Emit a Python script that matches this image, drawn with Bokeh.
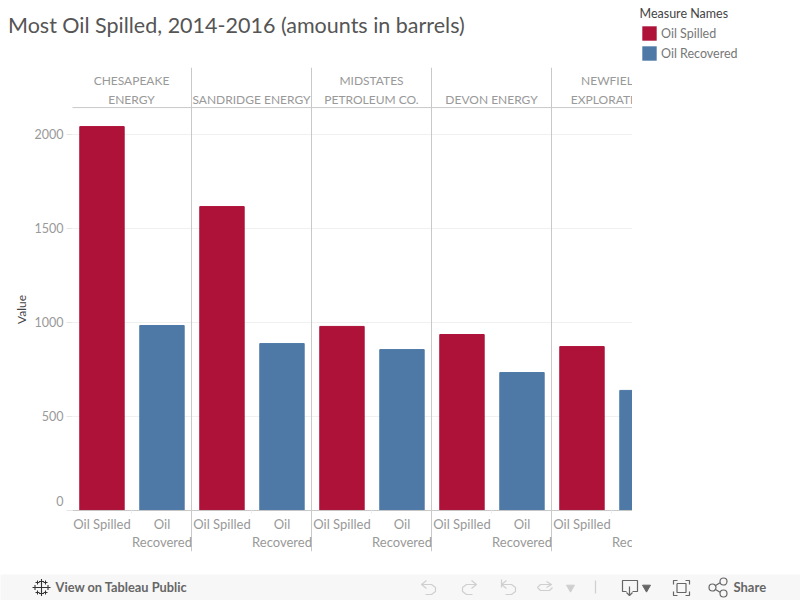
from bokeh.plotting import figure
from bokeh.layouts import column, row
from bokeh.models import Range1d, FixedTicker, Legend, LegendItem, Label
from bokeh.core.properties import value
from bokeh.embed import file_html
from bokeh.resources import INLINE

companies = ["CHESAPEAKE\nENERGY", "SANDRIDGE ENERGY", "MIDSTATES\nPETROLEUM CO.", "DEVON ENERGY", "NEWFIELD\nEXPLORATION"]
oil_spilled = [2040, 1615, 978, 935, 871]
oil_recovered = [983, 887, 855, 733, 638]
measures = ["Oil Spilled", "Oil\nRecovered"]
legend_names = ["Oil Spilled", "Oil Recovered"]
legend_title = "Measure Names"
y_ticks = [0, 500, 1000, 1500, 2000]
title_text = "Most Oil Spilled, 2014-2016 (amounts in barrels)"

RED = "#AE1239"
BLUE = "#4E79A7"
FONT = "Lato"
GREY = "#999999"
RULE = "#c8c8c8"

n = len(companies)
panels = list(range(n))
y_header = 2141

# title strip
head = figure(width=632, height=50, output_backend="svg", toolbar_location=None,
              x_range=Range1d(0, 632), y_range=Range1d(50, 0), min_border=0, outline_line_color=None)
head.axis.visible = False
head.grid.visible = False
head.text(x=[7.5], y=[24.5], text=[title_text], text_font=value(FONT), text_font_size="21.5px",
          text_color="#555555", text_baseline="middle", text_align="left")

p = figure(width=632, height=524, output_backend="svg", toolbar_location=None,
           x_range=Range1d(1 / 120, 561 / 120), y_range=Range1d(-218, 2354),
           min_border_left=72, min_border_right=0, min_border_top=17, min_border_bottom=23,
           outline_line_color=None, background_fill_color="white")
p.xaxis.visible = False
p.xgrid.visible = False
p.ygrid.ticker = FixedTicker(ticks=y_ticks)
p.ygrid.grid_line_color = "#f0f0f0"

ax = p.yaxis[0]
ax.ticker = FixedTicker(ticks=y_ticks)
ax.major_label_overrides = {0: "0\n"}
ax.axis_line_color = None
ax.major_tick_line_color = "#e6e6e6"
ax.major_tick_in = 0
ax.major_tick_out = 6
ax.minor_tick_line_color = None
ax.major_label_text_font = FONT
ax.major_label_text_font_size = "12.5px"
ax.major_label_text_color = GREY
ax.major_label_standoff = 3
ax.axis_label = "Value"
ax.axis_label_text_font = FONT
ax.axis_label_text_font_size = "12px"
ax.axis_label_text_font_style = "normal"
ax.axis_label_text_color = "#444444"
ax.axis_label_standoff = 3

p.vbar(x=[i + 0.254 for i in panels], top=oil_spilled, bottom=0, width=0.37, color=RED)
p.vbar(x=[i + 0.754 for i in panels], top=oil_recovered, bottom=0, width=0.37, color=BLUE)

p.segment(x0=panels, x1=panels, y0=[-218] * n, y1=[2354] * n, line_color=RULE, line_width=1)
p.segment(x0=[0, 0], x1=[n, n], y0=[0, y_header], y1=[0, y_header], line_color=RULE, line_width=1)
p.segment(x0=[i + 0.5 for i in panels], x1=[i + 0.5 for i in panels], y0=[0] * n, y1=[-16] * n,
          line_color="#eeeeee", line_width=1)

p.text(x=[i + 0.5 for i in panels], y=[y_header] * n, text=companies, y_offset=-1,
       text_align="center", text_baseline="bottom", text_font=value(FONT),
       text_font_size="12px", text_color=GREY, text_line_height=1.25)
p.text(x=[i + 0.254 for i in panels], y=[0] * n, text=[measures[0]] * n, y_offset=6,
       text_align="center", text_baseline="top", text_font=value(FONT),
       text_font_size="13px", text_color=GREY, text_line_height=1.1)
p.text(x=[i + 0.754 for i in panels], y=[0] * n, text=[measures[1]] * n, y_offset=6,
       text_align="center", text_baseline="top", text_font=value(FONT),
       text_font_size="13px", text_color=GREY, text_line_height=1.1)

# legend in its own panel to the right of the chart
lg = figure(width=168, height=574, output_backend="svg", toolbar_location=None,
            x_range=Range1d(0, 1), y_range=Range1d(0, 1), min_border=0,
            outline_line_color=None)
lg.axis.visible = False
lg.grid.visible = False
r1 = lg.vbar(x=[0.5], top=[0], bottom=[0], width=0, fill_color=RED, line_alpha=0)
r2 = lg.vbar(x=[0.5], top=[0], bottom=[0], width=0, fill_color=BLUE, line_alpha=0)
legend = Legend(items=[LegendItem(label=legend_names[0], renderers=[r1]),
                       LegendItem(label=legend_names[1], renderers=[r2])],
                location=(8, 512), orientation="vertical",
                label_text_font=FONT, label_text_font_size="12.5px", label_text_color="#777777",
                glyph_width=18, glyph_height=18, label_height=18, label_standoff=3, spacing=2,
                padding=0, margin=0, background_fill_alpha=0, border_line_color=None)
lg.add_layout(legend, "center")
lg.add_layout(Label(x=7, y=561, x_units="screen", y_units="screen", text=legend_title,
                    text_font=FONT, text_font_size="12.5px", text_color="#444444",
                    text_baseline="middle"))

# bottom Tableau bar (reference pixel coordinates)
bar = figure(width=800, height=26, output_backend="svg", toolbar_location=None,
             x_range=Range1d(0, 800), y_range=Range1d(600, 574),
             min_border=0, outline_line_color=None, background_fill_color="#f7f7f7",
             border_fill_color="#f7f7f7")
bar.axis.visible = False
bar.grid.visible = False

def polys(lines, color, width=1.2):
    bar.multi_line(xs=[[q[0] for q in l] for l in lines], ys=[[q[1] for q in l] for l in lines],
                   line_color=color, line_width=width)

ICON = "#cfcfcf"
DARK = "#666666"
lx = [41, 34.5, 47.5, 37, 45, 37, 45, 41, 41]
ly = [587, 587, 587, 582, 582, 592, 592, 581, 593]
bar.cross(x=lx, y=ly, size=[9, 5, 5, 4, 4, 4, 4, 5, 5], line_color="#333333", line_width=1.1)
bar.text(x=[55], y=[586.5], text=["View on Tableau Public"], text_font=value(FONT), text_font_style="bold",
         text_font_size="12.8px", text_color=DARK, text_baseline="middle")
polys([
    [(426, 580), (421, 584), (426, 588)],
    [(421, 584), (431, 584), (435, 587), (435, 591), (431, 594), (425, 594)],
    [(471, 580), (476, 584), (471, 588)],
    [(476, 584), (466, 584), (462, 587), (462, 591), (466, 594), (472, 594)],
    [(501, 579), (501, 587)],
    [(506, 580), (501, 584), (506, 588)],
    [(501, 584), (511, 584), (515, 587), (515, 591), (511, 594), (505, 594)],
    [(546, 581), (551, 584), (546, 587)],
    [(551, 584), (540, 584), (537, 587), (540, 590), (549, 590), (552, 587)],
    [(595, 580), (595, 593)],
], ICON)
bar.scatter(x=[570], y=[587], marker="inverted_triangle", size=8, color=ICON)
polys([
    [(626, 591), (622, 591), (622, 580), (637, 580), (637, 591), (632, 591)],
    [(629, 586), (629, 595)],
    [(626, 592), (629, 595), (632, 592)],
    [(673, 584), (673, 580), (677, 580)], [(685, 580), (689, 580), (689, 584)],
    [(689, 591), (689, 595), (685, 595)], [(677, 595), (673, 595), (673, 591)],
    [(676.5, 583), (685.5, 583), (685.5, 592), (676.5, 592), (676.5, 583)],
    [(715, 585), (720, 582)], [(715, 589), (720, 592)],
], DARK)
bar.scatter(x=[646], y=[587], marker="inverted_triangle", size=8, color=DARK)
bar.scatter(x=[712, 723, 723], y=[587, 581, 593], marker="circle", size=7, fill_color="#f7f7f7",
            line_color=DARK, line_width=1.2)
bar.text(x=[733], y=[586.5], text=["Share"], text_font=value(FONT), text_font_style="bold",
         text_font_size="13px", text_color=DARK, text_baseline="middle")

left = column(row(head), row(p), spacing=0)
layout = column(row(left, column(lg)), row(bar), spacing=0)
open("out.html", "w").write(file_html(layout, INLINE))
